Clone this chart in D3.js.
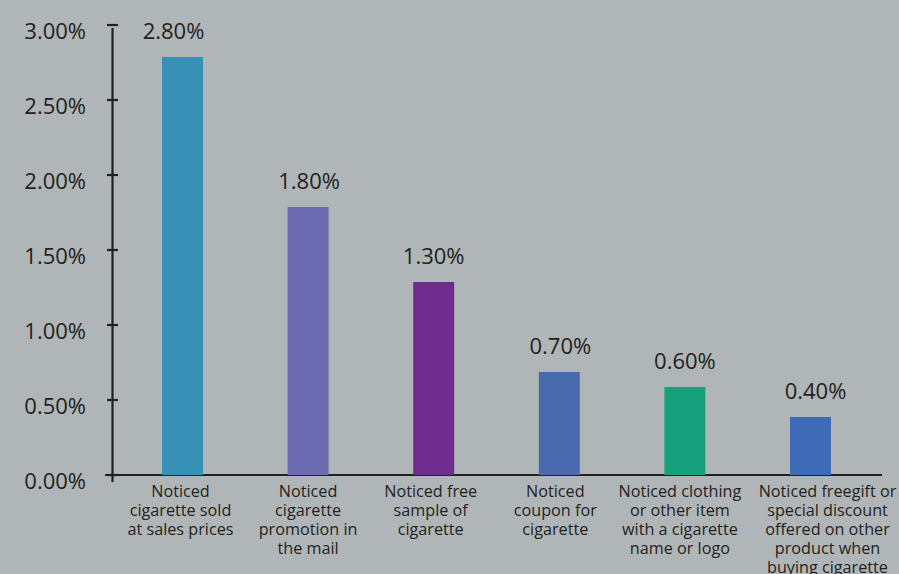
<!DOCTYPE html>
<html><head><meta charset="utf-8">
<script src="https://cdn.jsdelivr.net/npm/d3@7"></script>
<style>
html,body{margin:0;padding:0;background:#b0b5b7;}
svg{display:block;}
text{font-family:"Open Sans",sans-serif;fill:#231f20;}
</style></head>
<body>
<svg id="chart" width="899" height="574"></svg>
<script>
const categories = [
  "Noticed cigarette sold at sales prices",
  "Noticed cigarette promotion in the mail",
  "Noticed free sample of cigarette",
  "Noticed coupon for cigarette",
  "Noticed clothing or other item with a cigarette name or logo",
  "Noticed freegift or special discount offered on other product when buying cigarette"
];
const categoryLines = [
  ["Noticed", "cigarette sold", "at sales prices"],
  ["Noticed", "cigarette", "promotion in", "the mail"],
  ["Noticed free", "sample of", "cigarette"],
  ["Noticed", "coupon for", "cigarette"],
  ["Noticed clothing", "or other item", "with a cigarette", "name or logo"],
  ["Noticed freegift or", "special discount", "offered on other", "product when", "buying cigarette"]
];
const values = [2.80, 1.80, 1.30, 0.70, 0.60, 0.40];
const barColors = ["#3790b5", "#6c6ab1", "#6e2d8e", "#4a6aae", "#17a07c", "#3f6bb6"];
const yTicks = [0, 0.5, 1.0, 1.5, 2.0, 2.5, 3.0];

const svg = d3.select("#chart");
const x = d3.scaleBand().domain(categories).range([119.7, 873.3]).paddingInner(0.674).paddingOuter(0.337);
const y = d3.scaleLinear().domain([0, 3]).range([475, 25]);
const fmt = d => d.toFixed(2) + "%";

// axes lines
svg.append("line").attr("x1", 105).attr("x2", 882).attr("y1", y(0)).attr("y2", y(0))
  .attr("stroke", "#231f20").attr("stroke-width", 2.2);
svg.append("line").attr("x1", 112.5).attr("x2", 112.5).attr("y1", y(3) + 3).attr("y2", y(0) + 7)
  .attr("stroke", "#231f20").attr("stroke-width", 2.2);

// y ticks
const yg = svg.append("g");
yg.selectAll("line.tick").data(yTicks).join("line")
  .attr("x1", 107).attr("x2", 118)
  .attr("y1", d => y(d)).attr("y2", d => y(d))
  .attr("stroke", "#231f20").attr("stroke-width", 2.2);
yg.selectAll("text").data(yTicks).join("text")
  .attr("x", 86).attr("y", d => y(d) + 14)
  .attr("text-anchor", "end").attr("font-size", 22)
  .text(fmt);

// bars
svg.selectAll("rect.bar").data(values).join("rect")
  .attr("class", "bar")
  .attr("x", (d, i) => x(categories[i]))
  .attr("width", x.bandwidth())
  .attr("y", d => y(d) + 2)
  .attr("height", d => y(0) - y(d) - 2)
  .attr("fill", (d, i) => barColors[i]);

// value labels
const labelNudge = [-9, 1, 0, 1, 0, 5];
svg.selectAll("text.val").data(values).join("text")
  .attr("class", "val")
  .attr("x", (d, i) => x(categories[i]) + x.bandwidth() / 2 + labelNudge[i])
  .attr("y", d => y(d) - 16)
  .attr("text-anchor", "middle").attr("font-size", 22)
  .text(fmt);

// category labels
const catNudge = [-2, 0, -3, -4, -5, 17];
const cg = svg.append("g");
categoryLines.forEach((lines, i) => {
  const cx = x(categories[i]) + x.bandwidth() / 2 + catNudge[i];
  const t = cg.append("text").attr("text-anchor", "middle").attr("font-size", 16.2);
  lines.forEach((ln, j) => {
    t.append("tspan").attr("x", cx).attr("y", 497 + j * 19).text(ln);
  });
});
</script>
</body></html>
